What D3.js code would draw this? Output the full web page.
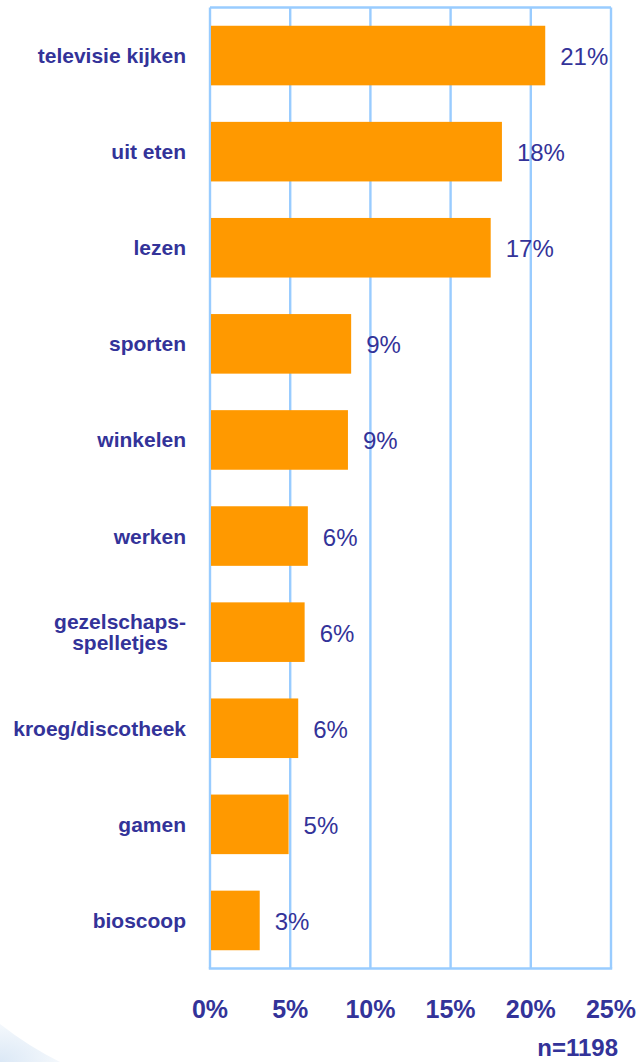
<!DOCTYPE html>
<html>
<head>
<meta charset="utf-8">
<script src="https://cdn.jsdelivr.net/npm/d3@7"></script>
<style>
  body { margin: 0; background: #fff; }
  svg { display: block; font-family: Arial, "Liberation Sans", sans-serif; }
</style>
</head>
<body>
<svg id="chart" width="643" height="1062"></svg>
<script>
// data
const categories = [
  "televisie kijken", "uit eten", "lezen", "sporten", "winkelen",
  "werken", "gezelschaps-\nspelletjes", "kroeg/discotheek", "gamen", "bioscoop"
];
const values = [20.9, 18.2, 17.5, 8.8, 8.6, 6.1, 5.9, 5.5, 4.9, 3.1];
const valueLabels = ["21%", "18%", "17%", "9%", "9%", "6%", "6%", "6%", "5%", "3%"];
const ticks = [0, 5, 10, 15, 20, 25];
const sampleNote = "n=1198";

const textColor = "#333399";
const gridColor = "#99CCFF";
const barColor = "#FF9900";

const svg = d3.select("#chart");

// faint blue swoosh in the bottom-left corner
const defs = svg.append("defs");
const grad = defs.append("radialGradient").attr("id", "swoosh")
  .attr("cx", "0%").attr("cy", "100%").attr("r", "100%");
grad.append("stop").attr("offset", "0%").attr("stop-color", "#dbe8f6");
grad.append("stop").attr("offset", "100%").attr("stop-color", "#f4f8fc");
svg.append("path")
  .attr("d", "M0,1024 Q28,1046 60,1062 L0,1062 Z")
  .attr("fill", "url(#swoosh)");

const plot = { left: 210, right: 611, top: 7.5, bottom: 968.5 };

const x = d3.scaleLinear()
  .domain([0, 25])
  .range([plot.left, plot.right]);

const y = d3.scaleBand()
  .domain(categories)
  .range([plot.top, plot.bottom])
  .paddingInner(0.38)
  .paddingOuter(0.19);

// grid lines + frame
svg.append("g")
  .selectAll("line")
  .data(ticks)
  .enter().append("line")
  .attr("x1", d => x(d)).attr("x2", d => x(d))
  .attr("y1", plot.top).attr("y2", plot.bottom)
  .attr("stroke", gridColor)
  .attr("stroke-width", 2.4);

svg.append("line")
  .attr("x1", plot.left).attr("x2", plot.right)
  .attr("y1", plot.top).attr("y2", plot.top)
  .attr("stroke", gridColor).attr("stroke-width", 2.4);

// bars
svg.append("g")
  .selectAll("rect")
  .data(categories)
  .enter().append("rect")
  .attr("x", x(0) + 1)
  .attr("y", d => y(d))
  .attr("width", (d, i) => x(values[i]) - x(0) - 1)
  .attr("height", y.bandwidth())
  .attr("fill", barColor);

// bottom axis line drawn over everything
svg.append("line")
  .attr("x1", plot.left - 1.2).attr("x2", plot.right + 1.2)
  .attr("y1", plot.bottom).attr("y2", plot.bottom)
  .attr("stroke", gridColor).attr("stroke-width", 2.4);

// value labels
svg.append("g")
  .selectAll("text")
  .data(categories)
  .enter().append("text")
  .attr("x", (d, i) => x(values[i]) + 15)
  .attr("y", d => y(d) + y.bandwidth() / 2 + 9.5)
  .attr("fill", textColor)
  .style("font-size", "24px")
  .text((d, i) => valueLabels[i]);

// category labels (multi-line ones are centred among themselves)
const catG = svg.append("g");
categories.forEach(c => {
  const lines = c.split("\n");
  const cy = y(c) + y.bandwidth() / 2;
  const lh = 21;
  const t = catG.append("text")
    .attr("fill", textColor)
    .style("font-size", "21px")
    .style("font-weight", "bold");
  if (lines.length === 1) {
    t.attr("x", 186).attr("y", cy + 7.5).attr("text-anchor", "end").text(c);
  } else {
    const probe = t.append("tspan").text(lines[0]);
    const w = probe.node().getComputedTextLength();
    probe.remove();
    const mid = 186 - w / 2;
    t.attr("text-anchor", "middle");
    lines.forEach((ln, k) => {
      t.append("tspan")
        .attr("x", mid)
        .attr("y", cy + 7.5 - (lines.length - 1) * lh / 2 + k * lh)
        .text(ln);
    });
  }
});

// tick labels
svg.append("g")
  .selectAll("text")
  .data(ticks)
  .enter().append("text")
  .attr("x", d => x(d))
  .attr("y", 1018)
  .attr("text-anchor", "middle")
  .attr("fill", textColor)
  .style("font-size", "25px")
  .style("font-weight", "bold")
  .text(d => d + "%");

svg.append("text")
  .attr("x", 618)
  .attr("y", 1056)
  .attr("text-anchor", "end")
  .attr("fill", textColor)
  .style("font-size", "24px")
  .style("font-weight", "bold")
  .text(sampleNote);
</script>
</body>
</html>
